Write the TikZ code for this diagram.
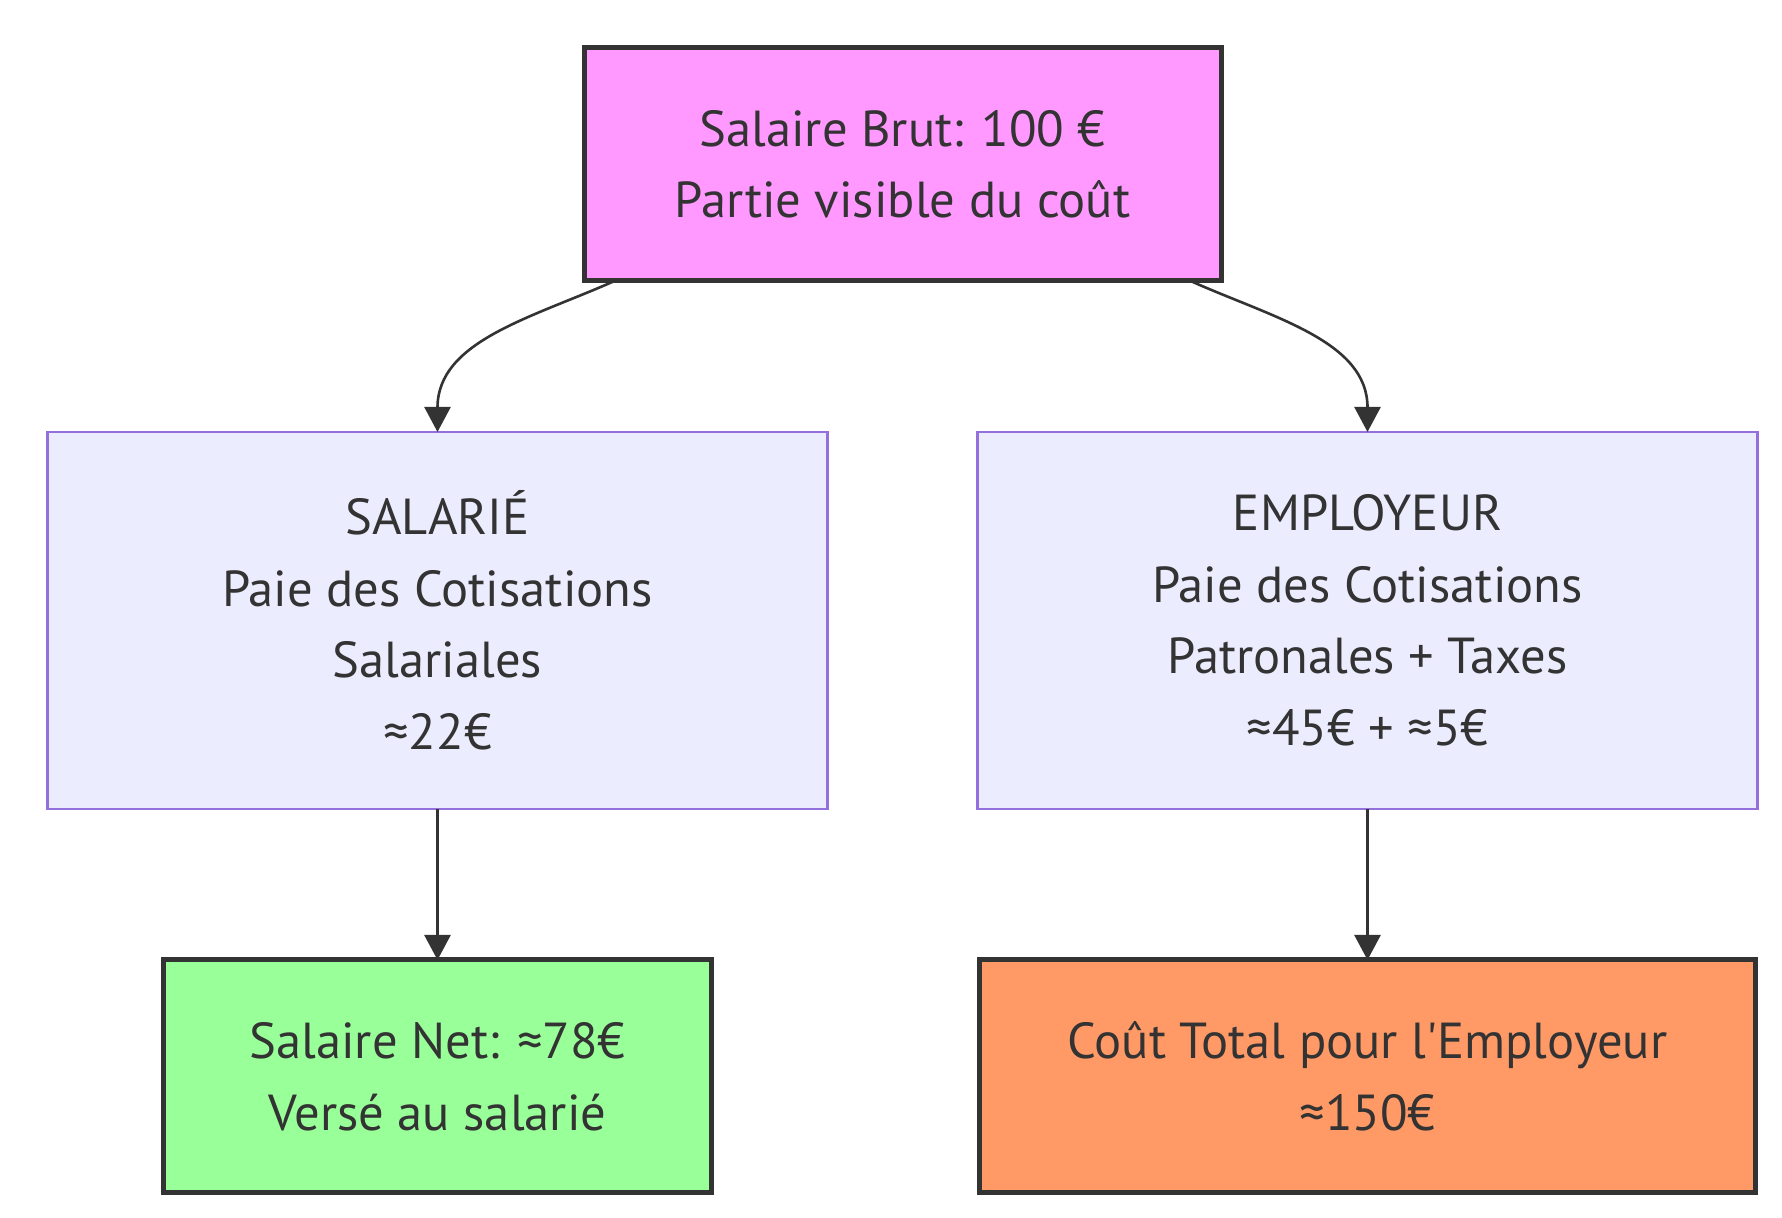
\documentclass[tikz,border=0pt]{standalone}
\usepackage{fontspec}
\setmainfont{PT Sans}
\usepackage{xcolor}
\usepackage{tikz}
\usetikzlibrary{positioning, arrows.meta, calc}
\definecolor{ink}{HTML}{333333}
\definecolor{brutfill}{HTML}{FF99FF}
\definecolor{netfill}{HTML}{99FF99}
\definecolor{totfill}{HTML}{FF9966}
\definecolor{partfill}{HTML}{ECECFF}
\definecolor{partline}{HTML}{9370DB}
\tikzset{
  % Box styles
  box/.style={rectangle, draw=#1, text=ink, align=center, outer sep=0pt, font=\fontsize{25.3}{35.8}\selectfont},
  keybox/.style={box=ink, line width=2.5pt, fill=#1, minimum height=116.5pt},
  keybox/.default={brutfill},
  partbox/.style={box=partline, line width=1.1pt, fill=partfill, minimum width=390pt, minimum height=188.5pt},
  arrow/.style={-{Triangle[length=12.5pt, width=13pt]}, draw=ink, line width=1.3pt},
}

\begin{document}
\begin{tikzpicture}[node distance=75.5pt]
    \useasboundingbox (0,0) rectangle (891pt,609pt);

    % Gross salary
    \node[keybox=brutfill, minimum width=318.5pt] (brut) at (451.25pt,526.75pt) {Salaire Brut: 100 €\\Partie visible du coût};

    % Contributions
    \node[partbox, below=of brut, xshift=-232.5pt] (sal) {SALARIÉ\\Paie des Cotisations\\Salariales\\≈22€};
    \node[partbox, below=of brut, xshift=232.5pt] (emp) {EMPLOYEUR\\Paie des Cotisations\\Patronales + Taxes\\≈45€ + ≈5€};

    % Results
    \node[keybox=netfill, minimum width=274pt, below=of sal] (net) {Salaire Net: ≈78€\\Versé au salarié};
    \node[keybox=totfill, minimum width=388pt, below=of emp] (tot) {Coût Total pour l\textquotesingle Employeur\\≈150€};

    % Arrows
    \draw[arrow] ($(brut.south)+(-144pt,0)$) to[out=-156, in=90] (sal.north);
    \draw[arrow] ($(brut.south)+(144pt,0)$) to[out=-24, in=90] (emp.north);
    \draw[arrow] (sal) -- (net);
    \draw[arrow] (emp) -- (tot);
\end{tikzpicture}
\end{document}
